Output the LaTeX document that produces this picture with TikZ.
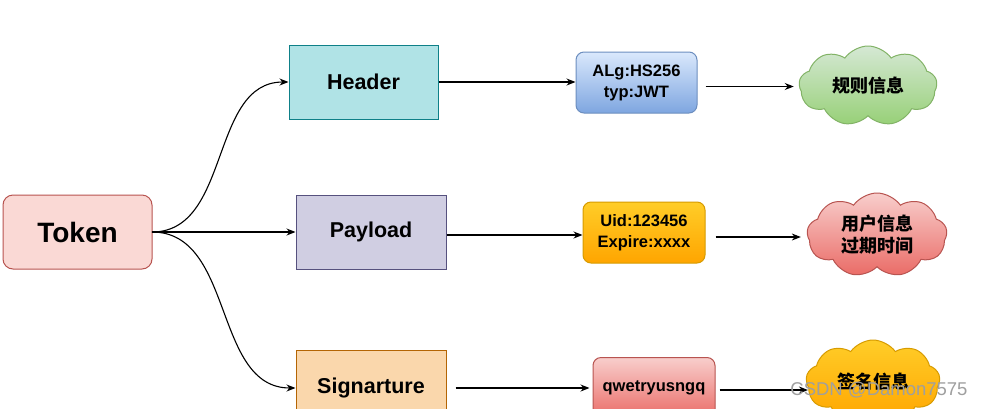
\documentclass[tikz,border=0pt]{standalone}
\usepackage{fontspec}
\setmainfont{Liberation Sans}
\newfontfamily\cjk{Noto Sans CJK SC}
\usetikzlibrary{shapes.symbols,arrows.meta}
\definecolor{tokF}{HTML}{FAD9D5}\definecolor{tokD}{HTML}{B85450}
\definecolor{hdF}{HTML}{B0E3E6}\definecolor{hdD}{HTML}{0E8088}
\definecolor{plF}{HTML}{D0CEE2}\definecolor{plD}{HTML}{56517E}
\definecolor{sgF}{HTML}{FAD7AC}\definecolor{sgD}{HTML}{B46504}
\definecolor{blT}{HTML}{DAE8FC}\definecolor{blB}{HTML}{7EA6E0}\definecolor{blD}{HTML}{6C8EBF}
\definecolor{orT}{HTML}{FFCD28}\definecolor{orB}{HTML}{FFA500}\definecolor{orD}{HTML}{D79B00}
\definecolor{rdT}{HTML}{F8CECC}\definecolor{rdB}{HTML}{EA6B66}\definecolor{rdD}{HTML}{B85450}
\definecolor{gnT}{HTML}{D5E8D4}\definecolor{gnB}{HTML}{97D077}\definecolor{gnD}{HTML}{82B366}
\tikzset{
  box/.style={draw, line width=1pt, minimum width=149pt, minimum height=74pt, inner sep=0pt, font=\bfseries\fontsize{21.5}{24}\selectfont},
  val/.style={draw, line width=1pt, rounded corners=8pt, minimum width=121pt, minimum height=61pt, inner sep=0pt, align=center, font=\bfseries\fontsize{16.5}{21}\selectfont},
  cl/.style={draw, line width=1pt, cloud, cloud puffs=9, cloud puff arc=110, aspect=1.8, minimum width=138pt, minimum height=80pt, inner sep=0pt, align=center, font=\cjk\bfseries\fontsize{18}{22}\selectfont},
  arr/.style={-{Stealth[length=9pt,width=7pt]}, line width=1.1pt}
}
\begin{document}
\begin{tikzpicture}[x=1pt,y=-1pt]
\useasboundingbox (0,0) rectangle (986,408);
\fill[white] (0,0) rectangle (986,408);
\begin{scope}
\clip (0,0) rectangle (986,408);
\node[box, draw=tokD, fill=tokF, rounded corners=10pt, font=\bfseries\fontsize{28}{30}\selectfont] (tok) at (77.5,232) {Token};
\node[box, draw=hdD, fill=hdF] (hd) at (363.5,82) {Header};
\node[box, draw=plD, fill=plF, minimum width=150pt] (pl) at (371,232) {Payload};
\node[box, draw=sgD, fill=sgF, minimum width=150pt, minimum height=75pt] (sg) at (371,388) {Signarture};
\node[val, draw=blD, top color=blT, bottom color=blB] (v1) at (636.5,82.5) {ALg:HS256\\typ:JWT};
\node[val, draw=orD, top color=orT, bottom color=orB, minimum width=122pt] (v2) at (644,232.5) {Uid:123456\\Expire:xxxx};
\node[val, draw=rdD, top color=rdT, bottom color=rdB, minimum width=122pt] (v3) at (654,388) {qwetryusngq};
\node[cl, draw=gnD, top color=gnT, bottom color=gnB] (c1) at (868,86) {规则信息};
\node[cl, draw=rdD, top color=rdT, bottom color=rdB, minimum width=140pt, minimum height=84pt] (c2) at (877,235) {用户信息\\过期时间};
\node[cl, draw=orD, top color=orT, bottom color=orB, minimum width=134pt, minimum height=84pt] (c3) at (873,382) {签名信息};
\coordinate (ts) at (152,232);
\draw[arr] (ts) to[out=0,in=180] (hd.west);
\draw[arr] (ts) -- (pl.west);
\draw[arr] (ts) to[out=0,in=180] (sg.west);
\draw[arr] (hd.east) -- (hd.east -| v1.west);
\draw[arr] ([xshift=8pt,yshift=-4pt]v1.east) -- ([xshift=-5pt,yshift=-4pt]v1.east -| c1.west);
\draw[arr] ([yshift=-3pt]pl.east) -- ([yshift=-3pt]pl.east -| v2.west);
\draw[arr] ([xshift=10pt,yshift=-4.5pt]v2.east) -- ([xshift=-6pt,yshift=-4.5pt]v2.east -| c2.west);
\draw[arr] ([xshift=9pt]sg.east) -- ([xshift=-3pt]sg.east -| v3.west);
\draw[arr] ([xshift=4pt,yshift=-2pt]v3.east) -- ([xshift=2pt,yshift=-2pt]v3.east -| c3.west);
\node[text=gray!75, font=\fontsize{18.5}{20}\selectfont] (wm) at (879,390) {CSDN @Damon7575};
\end{scope}
\end{tikzpicture}
\end{document}
